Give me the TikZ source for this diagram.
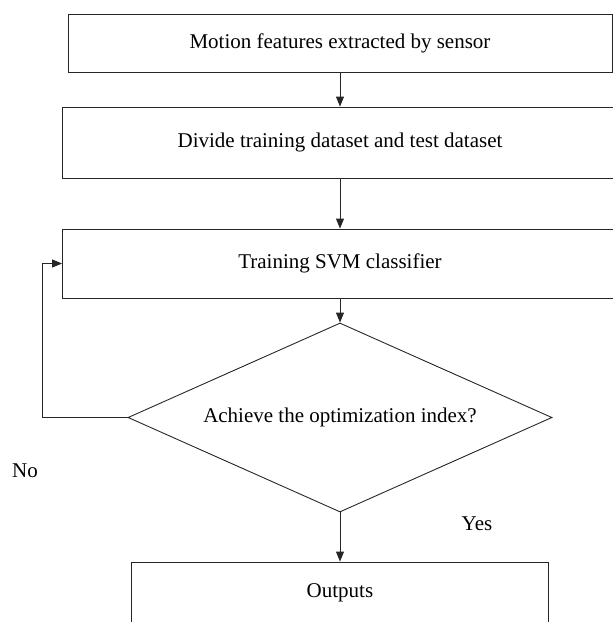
\documentclass[tikz,border=0pt]{standalone}
\usepackage{fontspec}
\setmainfont{Liberation Serif}
\usetikzlibrary{shapes.geometric,arrows.meta}
\begin{document}
\begin{tikzpicture}[x=1pt,y=1pt,
  every node/.style={font=\fontsize{21}{24}\selectfont, text=black},
  stepbox/.style={draw=black!85, line width=0.9pt, rectangle, inner sep=0pt},
  decide/.style={draw=black!85, line width=0.9pt, diamond, shape aspect=2.243, inner sep=0pt, minimum width=424pt, minimum height=189pt},
  link/.style={draw=black!85, line width=0.9pt, -{Triangle[length=10pt,width=8pt]}}]
\useasboundingbox (0,0) rectangle (613,-622);
\clip (0,0) rectangle (613,-622);
\node[stepbox, minimum width=544pt, minimum height=58pt] (b1) at (340,-43) {Motion features extracted by sensor};
\node[stepbox, minimum width=555pt, minimum height=71pt] (b2) at (340,-142.5) {Divide training dataset and test dataset};
\node[stepbox, minimum width=555pt, minimum height=69pt] (b3) at (340,-263.5) {Training SVM classifier};
\node[decide] (d) at (340,-417.5) {Achieve the optimization index?};
\node[stepbox, minimum width=417pt, minimum height=62pt] (out) at (340,-593) {Outputs};
\coordinate (lb) at (42,-417.5);
\coordinate (lt) at (42,-263.5);
\node (no) at (25,-471) {No};
\node (yes) at (477,-524) {Yes};
\draw[link] (b1) -- (b2);
\draw[link] (b2) -- (b3);
\draw[link] (b3) -- (d.north);
\draw[link] (d.south) -- (out);
\draw[link] (d.west) -- (lb) -- (lt) -- (b3.west);
\end{tikzpicture}
\end{document}
